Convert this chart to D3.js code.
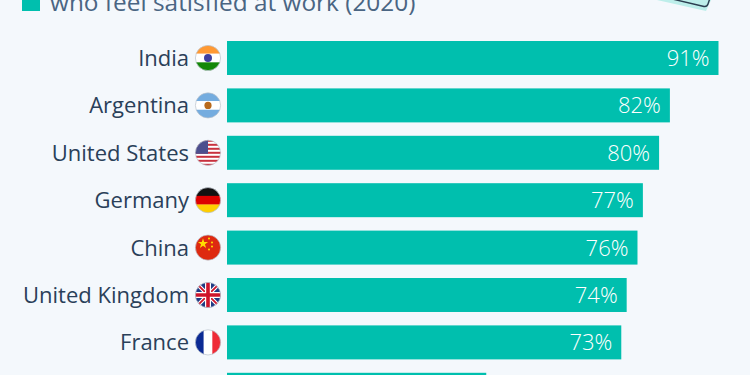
<!DOCTYPE html>
<html>
<head>
<meta charset="utf-8">
<script src="https://cdn.jsdelivr.net/npm/d3@7"></script>
<style>
html, body { margin: 0; padding: 0; background: #f4f8fc; overflow: hidden; }
text { font-family: "Open Sans", sans-serif; }
</style>
</head>
<body>
<svg id="chart"></svg>
<script>
// the last bar is cut off by the bottom edge, its label can't be read in the picture
const countries = ["India", "Argentina", "United States", "Germany", "China", "United Kingdom", "France", ""];
const shares = [91, 82, 80, 77, 76, 74, 73, 48];
const legendLabel = "who feel satisfied at work (2020)";

const width = 750, height = 375;
const teal = "#00bfae";
const barStep = 47.4, barPad = 0.283;

const svg = d3.select("#chart").attr("width", width).attr("height", height);
const defs = svg.append("defs");

const x = d3.scaleLinear().domain([0, 91]).range([227, 718.5]);
const y = d3.scaleBand().domain(countries)
    .range([41, 41 + barStep * (countries.length - barPad)])
    .paddingInner(barPad).paddingOuter(0).align(0);

// legend, cut off by the top edge like the reference
svg.append("rect").attr("x", 22).attr("y", -7).attr("width", 18).attr("height", 18).attr("fill", teal);
svg.append("text").attr("x", 50).attr("y", 11).attr("font-size", 24.4).attr("fill", "#4a6583").text(legendLabel);

// corner of the illustration top right
svg.append("path")
    .attr("d", "M648,-2 L706,11 L712,-2 Z")
    .attr("fill", "#bdeeea");
svg.append("path")
    .attr("d", "M668,-2 L704,6.5 Q707,7 708,4 L710,-2")
    .attr("fill", "none").attr("stroke", "#2c3e50").attr("stroke-width", 1.4);

const bars = svg.append("g");
bars.selectAll("rect").data(countries).enter().append("rect")
    .attr("x", x(0))
    .attr("y", d => y(d))
    .attr("width", (d, i) => x(shares[i]) - x(0))
    .attr("height", y.bandwidth())
    .attr("fill", teal);

bars.selectAll("text").data(countries).enter().append("text")
    .attr("x", (d, i) => x(shares[i]) - 9)
    .attr("y", d => y(d) + y.bandwidth() / 2)
    .attr("dy", "0.36em")
    .attr("text-anchor", "end")
    .attr("font-size", 22)
    .attr("font-weight", 300)
    .attr("fill", "#ffffff")
    .text((d, i) => shares[i] + "%");

const labels = svg.append("g");
labels.selectAll("text").data(countries).enter().append("text")
    .attr("x", 189)
    .attr("y", d => y(d) + y.bandwidth() / 2)
    .attr("dy", "0.36em")
    .attr("text-anchor", "end")
    .attr("font-size", 22)
    .attr("fill", "#2a4059")
    .text(d => d);

// flags: each one is drawn in a 26x26 box, clipped to a circle
const flags = {
    "India": g => {
        stripesH(g, ["#ff9933", "#ffffff", "#138808"]);
        g.append("circle").attr("cx", 13).attr("cy", 13).attr("r", 4).attr("fill", "#3f3f9f");
    },
    "Argentina": g => {
        stripesH(g, ["#74acdf", "#ffffff", "#74acdf"]);
        g.append("circle").attr("cx", 13).attr("cy", 13).attr("r", 3.6).attr("fill", "#b8691b");
    },
    "United States": g => {
        g.append("rect").attr("width", 26).attr("height", 26).attr("fill", "#ffffff");
        d3.range(0, 7).forEach(i => g.append("rect").attr("y", i * 4).attr("width", 26).attr("height", 2).attr("fill", "#c8313e"));
        g.append("rect").attr("width", 13).attr("height", 14).attr("fill", "#4c4f8e");
    },
    "Germany": g => stripesH(g, ["#111111", "#dd0000", "#ffce00"]),
    "China": g => {
        g.append("rect").attr("width", 26).attr("height", 26).attr("fill", "#de2910");
        g.append("path").attr("d", d3.symbol(d3.symbolStar, 32)()).attr("transform", "translate(8,9)").attr("fill", "#ffde00");
        [[14, 4], [17, 8], [17, 12], [14, 15]].forEach(p =>
            g.append("circle").attr("cx", p[0]).attr("cy", p[1]).attr("r", 1).attr("fill", "#ffde00"));
    },
    "United Kingdom": g => {
        g.append("rect").attr("width", 26).attr("height", 26).attr("fill", "#1f3a84");
        g.append("path").attr("d", "M0,0L26,26M26,0L0,26").attr("stroke", "#ffffff").attr("stroke-width", 4);
        g.append("path").attr("d", "M0,0L26,26M26,0L0,26").attr("stroke", "#cf142b").attr("stroke-width", 1.8);
        g.append("path").attr("d", "M13,0V26M0,13H26").attr("stroke", "#ffffff").attr("stroke-width", 6);
        g.append("path").attr("d", "M13,0V26M0,13H26").attr("stroke", "#cf142b").attr("stroke-width", 3.6);
    },
    "France": g => {
        ["#0b2a94", "#ffffff", "#ef2b37"].forEach((c, i) =>
            g.append("rect").attr("x", i * 26 / 3).attr("width", 26 / 3 + 0.2).attr("height", 26).attr("fill", c));
    }
};

function stripesH(g, colors) {
    colors.forEach((c, i) =>
        g.append("rect").attr("y", i * 26 / 3).attr("width", 26).attr("height", 26 / 3 + 0.2).attr("fill", c));
}

defs.append("clipPath").attr("id", "flagClip")
    .append("circle").attr("cx", 13).attr("cy", 13).attr("r", 12.6);

countries.forEach(c => {
    if (!flags[c]) return;
    const g = svg.append("g").attr("transform", `translate(195,${y(c) + y.bandwidth() / 2 - 13})`);
    flags[c](g.append("g").attr("clip-path", "url(#flagClip)"));
    g.append("circle").attr("cx", 13).attr("cy", 13).attr("r", 12.6)
        .attr("fill", "none").attr("stroke", "#b9c2cc").attr("stroke-width", 0.7);
});
</script>
</body>
</html>
